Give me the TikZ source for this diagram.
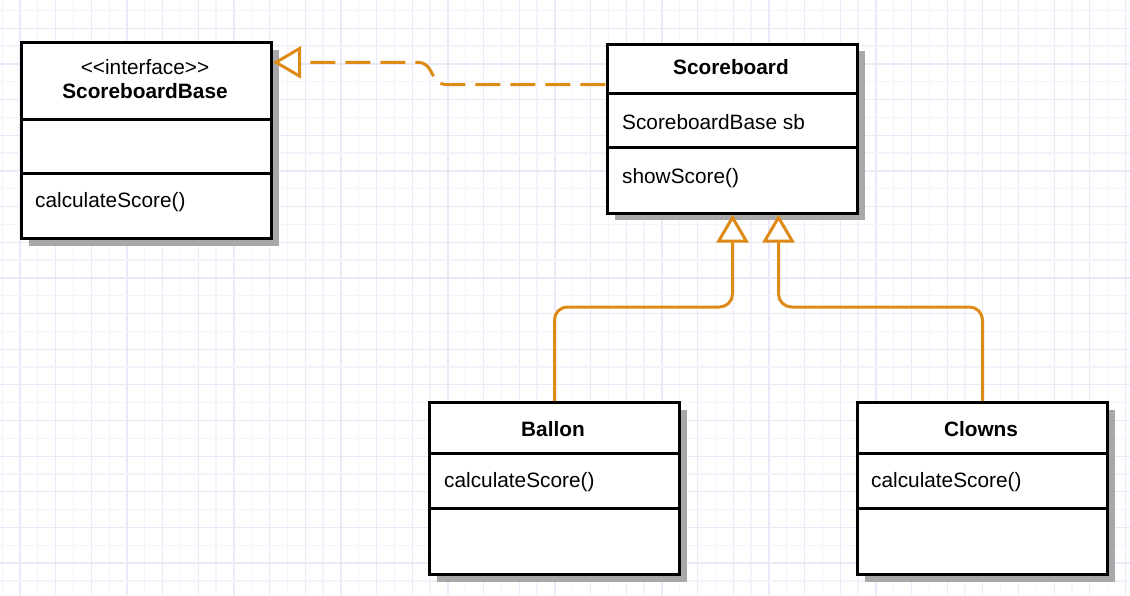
\documentclass[tikz,border=0pt]{standalone}
\usepackage{fontspec}
\setmainfont{Liberation Sans}
\usetikzlibrary{arrows.meta,calc,shadows}
\definecolor{conn}{RGB}{222,138,22}
\definecolor{gridA}{RGB}{233,233,249}
\definecolor{gridB}{RGB}{243,243,252}
\definecolor{shade}{RGB}{168,168,168}
\begin{document}
\begin{tikzpicture}[x=1pt,y=-1pt,
  classbox/.style={draw=black, line width=3pt, fill=white, minimum width=250pt, anchor=north west, inner sep=0pt,
    drop shadow={shadow xshift=7pt, shadow yshift=-7pt, fill=shade, opacity=1}},
  divider/.style={draw=black, line width=3pt},
  title/.style={font=\fontsize{20.8}{25}\selectfont\bfseries, anchor=base, inner sep=0pt},
  plain/.style={font=\fontsize{20.8}{25}\selectfont, anchor=base, inner sep=0pt},
  member/.style={font=\fontsize{20.8}{25}\selectfont, anchor=base west, inner sep=0pt},
  rel/.style={draw=conn, line width=3pt, rounded corners=13pt},
  realize/.style={draw=conn, line width=3pt, dash pattern=on 25pt off 10pt, dash phase=25pt},
  hollowtip/.tip={Triangle[open, length=28pt, width=32pt, fill=white]},
  hollow/.style={-hollowtip},
  hollowback/.style={hollowtip-},
  gridmajor/.style={draw=gridA, line width=1.3pt},
  gridminor/.style={draw=gridB, line width=1.3pt},
]
\useasboundingbox (0,0) rectangle (1130,595);
\fill[white] (0,0) rectangle (1130,595);
% grid
\foreach \k in {-1,...,31} {
  \draw[gridminor] ({37.83+35.66*\k},0) -- ({37.83+35.66*\k},595);
  \draw[gridmajor] ({20+35.66*\k},0) -- ({20+35.66*\k},595);
}
\foreach \k in {0,...,17} {
  \draw[gridminor] (0,{10.4+35.66*\k}) -- (1130,{10.4+35.66*\k});
  \draw[gridmajor] (0,{28.23+35.66*\k}) -- (1130,{28.23+35.66*\k});
}

% ScoreboardBase
\node[classbox, minimum height=196pt] (base) at (20,41) {};
\draw[divider] ($(base.north west)+(0,78)$) -- ($(base.north east)+(0,78)$);
\draw[divider] ($(base.north west)+(0,132)$) -- ($(base.north east)+(0,132)$);
\node[plain] (baseStereo) at (145,74) {<{}<interface>{}>};
\node[title] (baseName) at (145,98.7) {ScoreboardBase};
\node[member] (baseOp) at (35,207.3) {calculateScore()};

% Scoreboard
\node[classbox, minimum height=169pt] (sb) at (606,42.5) {};
\draw[divider] ($(sb.north west)+(0,50.5)$) -- ($(sb.north east)+(0,50.5)$);
\draw[divider] ($(sb.north west)+(0,104.5)$) -- ($(sb.north east)+(0,104.5)$);
\node[title] (sbName) at (731,74.3) {Scoreboard};
\node[member] (sbAttr) at (622,129) {ScoreboardBase sb};
\node[member] (sbOp) at (622,183.3) {showScore()};

% Ballon
\node[classbox, minimum height=172pt] (bal) at (428,401) {};
\draw[divider] ($(bal.north west)+(0,52)$) -- ($(bal.north east)+(0,52)$);
\draw[divider] ($(bal.north west)+(0,107)$) -- ($(bal.north east)+(0,107)$);
\node[title] (balName) at (553,436) {Ballon};
\node[member] (balOp) at (444,487) {calculateScore()};

% Clowns
\node[classbox, minimum height=172pt] (clo) at (856,401) {};
\draw[divider] ($(clo.north west)+(0,52)$) -- ($(clo.north east)+(0,52)$);
\draw[divider] ($(clo.north west)+(0,107)$) -- ($(clo.north east)+(0,107)$);
\node[title] (cloName) at (981,436) {Clowns};
\node[member] (cloOp) at (871,487) {calculateScore()};

% connectors
\coordinate (busY) at (0,307);
\coordinate (sbIn2) at ($(sb.south)+(46,0)$);
\draw[rel, hollow] (bal.north) -- (bal.north |- busY) -| (sb.south);
\draw[rel, hollow] (clo.north) -- (clo.north |- busY) -| (sbIn2);

\coordinate (sbLeft) at ($(sb.north west)+(0,42)$);
\coordinate (baseRight) at ($(base.north east)+(0,21.3)$);
\coordinate (jogA) at (417,0);
\coordinate (jogB) at (447,0);
\draw[realize, hollowback] (baseRight) -- (baseRight -| jogA)
  .. controls ($(baseRight -| jogA)+(19,0)$) and ($(sbLeft -| jogB)+(-19,0)$) .. (sbLeft -| jogB) -- (sbLeft);
\end{tikzpicture}
\end{document}
